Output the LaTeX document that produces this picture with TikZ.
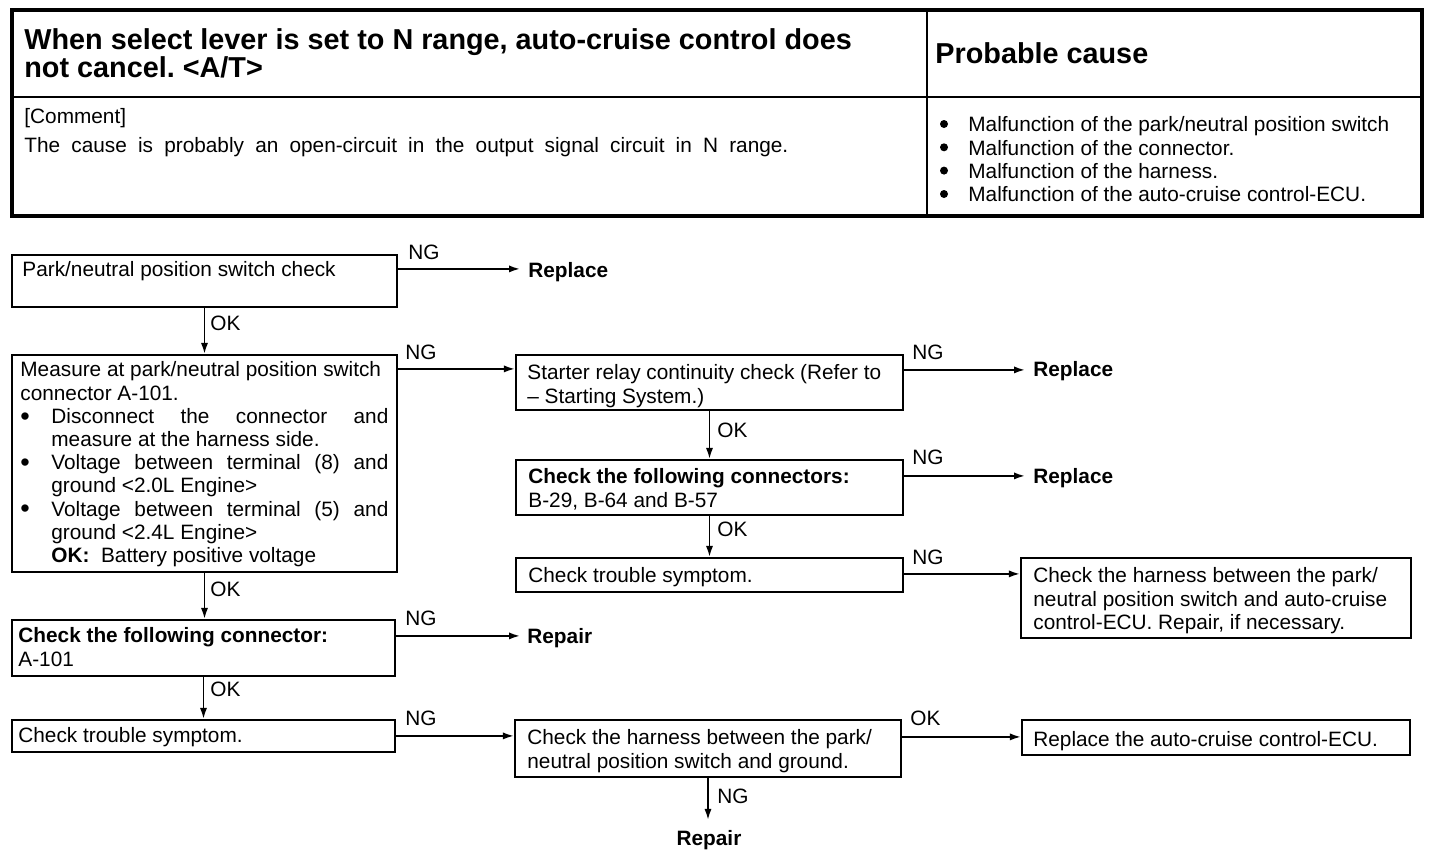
\documentclass[tikz,border=0pt]{standalone}
\usepackage{fontspec}
\setmainfont{Liberation Sans}
\usetikzlibrary{arrows.meta,fit,calc}
\newcommand\bigbul{\smash{\raisebox{-0.15ex}{\fontsize{13.5}{13.5}\selectfont\textbullet}}}
\frenchspacing
\begin{document}
\begin{tikzpicture}[x=0.5pt,y=-0.5pt,
  box/.style={draw, line width=1.1pt, inner sep=0pt},
  txt/.style={inner sep=0pt, anchor=north west, align=left, font=\fontsize{10.4}{11.6}\selectfont},
  lbl/.style={inner sep=0pt, anchor=west, font=\fontsize{10.4}{12}\selectfont},
  res/.style={inner sep=0pt, anchor=west, font=\bfseries\fontsize{10.4}{12}\selectfont},
  dot/.style={fill=black},
  arr/.style={line width=0.9pt, -{Latex[length=5.5pt,width=3.6pt]}}]
\useasboundingbox (0,0) rectangle (1440,858);
\fill[white] (0,0) rectangle (1440,858);

% ---------- header table ----------
\node[draw, line width=1.6pt, inner sep=0pt, fit={(12,10) (1422,216)}] (tbl) {};
\coordinate (hl) at (0,97);
\coordinate (vl) at (927,0);
\draw[line width=1.3pt] (tbl.west |- hl) -- (tbl.east |- hl);
\draw[line width=1.3pt] (tbl.north -| vl) -- (tbl.south -| vl);
\node[txt, font=\bfseries\fontsize{14.4}{14}\selectfont] (title) at (24,28)
  {When select lever is set to N range, auto-cruise control does\\not cancel. <A/T>};
\node[inner sep=0pt, anchor=west, font=\bfseries\fontsize{14.4}{14}\selectfont] (pc) at (935,53) {Probable cause};
\node[txt] (cm) at (24,108)
  {[Comment]\\[3pt]\makebox[382pt][s]{The cause is probably an open-circuit in the output signal circuit in N range.}};
\node[txt] (causes) at (968,116.5)
  {Malfunction of the park/neutral position switch\\
   Malfunction of the connector.\\
   Malfunction of the harness.\\
   Malfunction of the auto-cruise control-ECU.};
\foreach \yy in {124,147.3,170.6,194}
  \fill[dot] (944,\yy) circle[radius=2pt];

% ---------- boxes ----------
\node[box, fit={(12,255) (397,307)}] (A) {};
\node[txt] (At) at (22,261.5) {Park/neutral position switch check};

\node[box, fit={(12,355) (397,572)}] (B) {};
\node[txt, text width=184pt, align=justify] (Bt) at (20,361.5)
  {Measure at park/neutral position switch\\connector A-101.\par
   \noindent\hangindent=15.5pt\hangafter=1\makebox[15.5pt][l]{\bigbul}Disconnect the connector and\linebreak measure at the harness side.\par
   \noindent\hangindent=15.5pt\hangafter=1\makebox[15.5pt][l]{\bigbul}Voltage between terminal (8) and\linebreak ground <2.0L Engine>\par
   \noindent\hangindent=15.5pt\hangafter=1\makebox[15.5pt][l]{\bigbul}Voltage between terminal (5) and\linebreak ground <2.4L Engine>\par
   \noindent\hspace*{15.5pt}\textbf{OK:}\ \ Battery positive voltage\par};

\node[box, fit={(516,355) (903,410)}] (C) {};
\node[txt] (Ct) at (527,364.5) {Starter relay continuity check (Refer to\\– Starting System.)};

\node[box, fit={(516,460) (903,515)}] (D) {};
\node[txt] (Dt) at (528,468.5) {\textbf{Check the following connectors:}\\B-29, B-64 and B-57};

\node[box, fit={(516,558) (903,592)}] (E) {};
\node[txt] (Et) at (528,567.5) {Check trouble symptom.};

\node[box, fit={(1021,558) (1411,638)}] (F) {};
\node[txt] (Ft) at (1033,567.5) {Check the harness between the park/\\neutral position switch and auto-cruise\\control-ECU. Repair, if necessary.};

\node[box, fit={(12,620) (395,676)}] (G) {};
\node[txt] (Gt) at (18,627.5) {\textbf{Check the following connector:}\\A-101};

\node[box, fit={(12,720) (395,752)}] (H) {};
\node[txt] (Ht) at (18,727.5) {Check trouble symptom.};

\node[box, fit={(515,720) (901,777)}] (I) {};
\node[txt] (It) at (527,729.5) {Check the harness between the park/\\neutral position switch and ground.};

\node[box, fit={(1022,720) (1410,755)}] (J) {};
\node[txt] (Jt) at (1033,731.5) {Replace the auto-cruise control-ECU.};

% ---------- result texts ----------
\node[res] (R1) at (528,272) {Replace};
\node[res] (R2) at (1033,371) {Replace};
\node[res] (R3) at (1033,478) {Replace};
\node[res] (R4) at (527,638) {Repair};
\node[res, anchor=center] (R5) at (709,840) {Repair};

% ---------- connectors ----------
\draw[arr] ([shift={(0,15)}]A.north east) -- ([shift={(-8,15)}]A.north east -| R1.west);
\draw[arr] (A.south) -- (A.south |- B.north);
\draw[arr] ([shift={(0,15)}]B.north east) -- ([shift={(0,15)}]C.north west);
\draw[arr] ([shift={(0,16)}]C.north east) -- ([shift={(-8,16)}]C.north east -| R2.west);
\draw[arr] (C.south) -- (D.north);
\draw[arr] ([shift={(0,17)}]D.north east) -- ([shift={(-8,17)}]D.north east -| R3.west);
\draw[arr] (D.south) -- (E.north);
\draw[arr] ([shift={(0,17)}]E.north east) -- ([shift={(0,17)}]F.north west);
\draw[arr] (B.south) -- (B.south |- G.north);
\draw[arr] ([shift={(0,17)}]G.north east) -- ([shift={(-7,17)}]G.north east -| R4.west);
\draw[arr] (G.south) -- (G.south |- H.north);
\draw[arr] ([shift={(0,17)}]H.north east) -- ([shift={(0,17)}]I.north west);
\draw[arr] ([shift={(0,18)}]I.north east) -- ([shift={(0,18)}]J.north west);
\draw[arr] (I.south) -- ([yshift=5pt]I.south |- R5.north);

% ---------- labels ----------
\node[lbl] (l1) at (408,252) {NG};
\node[lbl] (l2) at (210,323) {OK};
\node[lbl] (l3) at (405,352) {NG};
\node[lbl] (l4) at (912,352) {NG};
\node[lbl] (l5) at (717,430) {OK};
\node[lbl] (l6) at (912,457) {NG};
\node[lbl] (l7) at (717,529) {OK};
\node[lbl] (l8) at (912,557) {NG};
\node[lbl] (l9) at (210,589) {OK};
\node[lbl] (l10) at (405,618) {NG};
\node[lbl] (l11) at (210,689) {OK};
\node[lbl] (l12) at (405,718) {NG};
\node[lbl] (l13) at (910,718) {OK};
\node[lbl] (l14) at (717,796) {NG};
\end{tikzpicture}
\end{document}
